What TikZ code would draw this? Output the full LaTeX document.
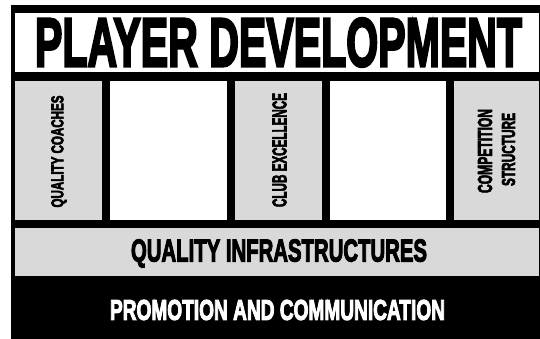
\documentclass[tikz,border=0pt]{standalone}
\usepackage{fontspec}
\setmainfont{Liberation Sans}
\newfontfamily\heavyfont[FakeBold=4]{Liberation Sans}
\definecolor{panelgrey}{RGB}{217,217,217}
\newcommand{\squeeze}[3]{\resizebox{#1pt}{#2pt}{\heavyfont\bfseries #3}}
\tikzset{label/.style={inner sep=0pt}}
\begin{document}
\begin{tikzpicture}[x=1pt,y=-1pt]
\useasboundingbox (0,0) rectangle (540,339);
\clip (0,0) rectangle (540,339);
\fill[black] (11,5) rectangle (545,345);
\fill[white] (15,13) rectangle (539,72);
\fill[panelgrey] (15,81) rectangle (102,220);
\fill[white] (110,81) rectangle (227,220);
\fill[panelgrey] (235,81) rectangle (322,220);
\fill[white] (330,81) rectangle (446,220);
\fill[panelgrey] (454,81) rectangle (539,220);
\fill[panelgrey] (15,228) rectangle (539,276);
\node[label] (title) at (278.5,42.5) {\squeeze{487}{48}{PLAYER DEVELOPMENT}};
\node[label,rotate=90] (coaches) at (59,151.5) {\squeeze{112}{12}{QUALITY COACHES}};
\node[label,rotate=90] (club) at (279.5,150) {\squeeze{114}{14}{CLUB EXCELLENCE}};
\node[label,rotate=90] (comp) at (485,151) {\squeeze{84}{14}{COMPETITION}};
\node[label,rotate=90] (struct) at (508.5,149.5) {\squeeze{73}{13}{STRUCTURE}};
\node[label] (infra) at (279,253.5) {\squeeze{296}{22}{QUALITY INFRASTRUCTURES}};
\node[label,text=white] (promo) at (277.5,310) {\squeeze{335}{20}{PROMOTION AND COMMUNICATION}};
\end{tikzpicture}
\end{document}
